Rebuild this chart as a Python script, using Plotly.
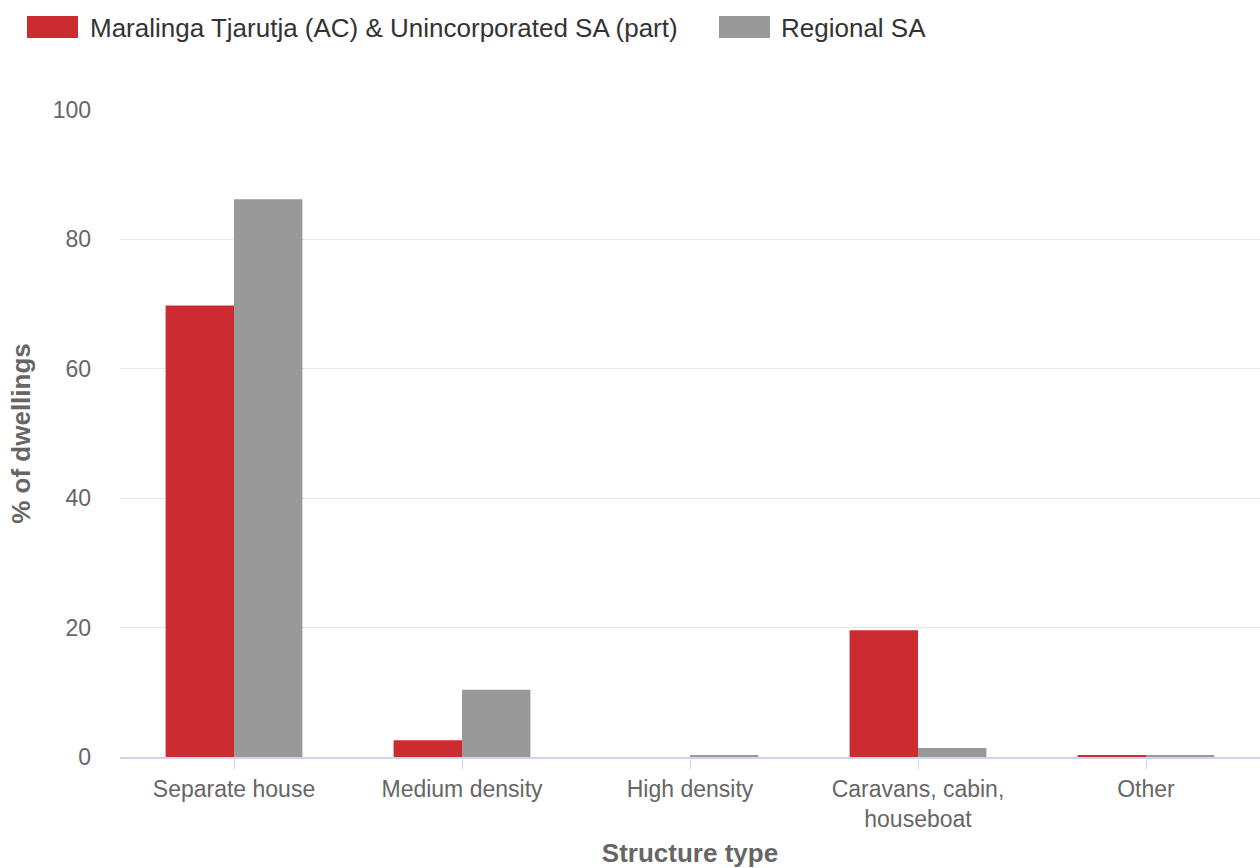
import plotly.graph_objects as go

categories = ["Separate house", "Medium density", "High density", "Caravans, cabin,<br>houseboat", "Other"]
series_names = ["Maralinga Tjarutja (AC) & Unincorporated SA (part)", "Regional SA"]
local_values = [69.8, 2.6, 0.0, 19.6, 0.3]
regional_values = [86.2, 10.4, 0.2, 1.4, 0.2]
colors = ["#cc2c31", "#999999"]
y_ticks = [0, 20, 40, 60, 80, 100]

W, H = 1260, 868
ML, MR, MT, MB = 120, 0, 110, 111
PW, PH = W - ML - MR, H - MT - MB

def px_x(x):
    return (x - ML) / PW

def px_y(y):
    return 1 + (MT - y) / PH

fig = go.Figure()
for name, vals, col in zip(series_names, [local_values, regional_values], colors):
    fig.add_trace(go.Bar(x=categories, y=vals, name=name, marker=dict(color=col, line=dict(width=0))))

# custom legend (large rectangular swatches like the reference)
legend_items = [(series_names[0], colors[0], 27, 78, 88), (series_names[1], colors[1], 719, 770, 779)]
shapes, annotations = [], []
for name, col, sx0, sx1, tx in legend_items:
    shapes.append(dict(type="rect", xref="paper", yref="paper",
                       x0=px_x(sx0), x1=px_x(sx1), y0=px_y(38), y1=px_y(16),
                       fillcolor=col, line=dict(width=0)))
    annotations.append(dict(text=name, xref="paper", yref="paper", x=px_x(tx), y=px_y(28),
                            xanchor="left", yanchor="middle", showarrow=False,
                            font=dict(size=26, color="#333333")))

fig.update_layout(
    width=W, height=H,
    paper_bgcolor="white", plot_bgcolor="white",
    barmode="group", bargap=0.4, bargroupgap=0,
    showlegend=False,
    shapes=shapes, annotations=annotations,
    margin=dict(l=ML, r=MR, t=MT, b=MB),
    font=dict(family="Liberation Sans, Arial, sans-serif", size=23, color="#666666"),
    xaxis=dict(showline=True, linecolor="#ccd6eb", linewidth=2, ticks="outside",
               ticklen=10, tickcolor="#ccd6eb", tickwidth=1, automargin=False,
               tickfont=dict(size=23, color="#666666"),
               title=dict(text="<b>Structure type</b>", font=dict(size=26, color="#666666"), standoff=18)),
    yaxis=dict(range=[0, 100], tickvals=y_ticks, showgrid=True, gridcolor="#e6e6e6", gridwidth=1,
               zeroline=False, showline=False, ticks="", ticklabelstandoff=28, automargin=False,
               tickfont=dict(size=23, color="#666666"),
               title=dict(text="<b>% of dwellings</b>", font=dict(size=26, color="#666666"), standoff=14)),
)
fig.write_html("out.html", config={"displayModeBar": False},
               post_script="document.body.style.margin='0';document.body.style.padding='0';")
